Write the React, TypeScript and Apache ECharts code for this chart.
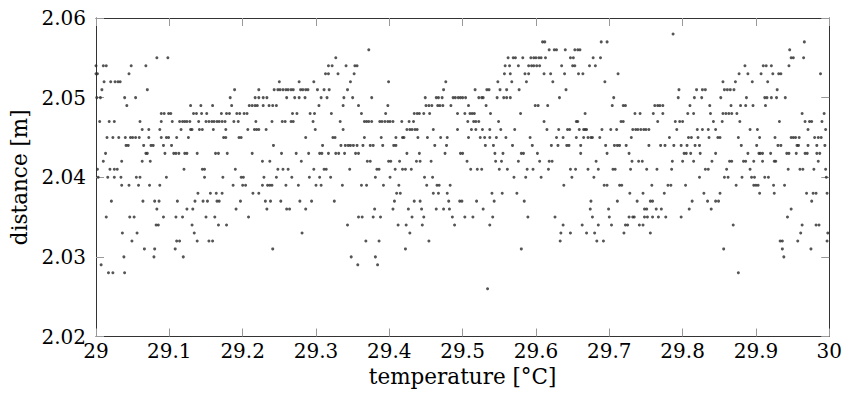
import React, { useEffect, useRef } from "react";
import * as echarts from "echarts";

// distance values (m), one row per measured level
const distances: number[] = [
  2.058, 2.057, 2.056, 2.055, 2.054, 2.053, 2.052, 2.051, 2.050, 2.049, 2.048, 2.047, 2.046,
  2.045, 2.044, 2.043, 2.042, 2.041, 2.040, 2.039, 2.038, 2.037, 2.036, 2.035, 2.034, 2.033,
  2.032, 2.031, 2.030, 2.029, 2.028, 2.026,
];

// temperatures (°C) at which each distance level was observed
const t2058 = [29.787];
const t2057 = [29.609, 29.612, 29.689, 29.697, 29.966];
const t2056 = [29.372, 29.618, 29.625, 29.628, 29.640, 29.653, 29.657, 29.660, 29.946];
const t2055 = [29.083, 29.098, 29.327, 29.562, 29.569, 29.572, 29.582, 29.593, 29.597, 29.600, 29.604, 29.607, 29.613, 29.647, 29.651, 29.678, 29.688, 29.948, 29.951, 29.965];
const t2054 = [29.000, 29.010, 29.014, 29.048, 29.068, 29.317, 29.322, 29.341, 29.353, 29.356, 29.558, 29.564, 29.576, 29.590, 29.594, 29.597, 29.601, 29.605, 29.635, 29.650, 29.653, 29.673, 29.681, 29.885, 29.910, 29.914, 29.921, 29.945];
const t2053 = [29.000, 29.002, 29.045, 29.313, 29.317, 29.330, 29.352, 29.557, 29.565, 29.585, 29.590, 29.611, 29.620, 29.639, 29.658, 29.664, 29.712, 29.877, 29.889, 29.907, 29.923, 29.931, 29.934, 29.988];
const t2052 = [29.011, 29.020, 29.026, 29.030, 29.033, 29.250, 29.277, 29.297, 29.347, 29.399, 29.477, 29.548, 29.567, 29.587, 29.623, 29.694, 29.855, 29.872, 29.895, 29.916];
const t2051 = [29.008, 29.070, 29.189, 29.222, 29.243, 29.248, 29.251, 29.255, 29.259, 29.262, 29.266, 29.269, 29.279, 29.282, 29.286, 29.289, 29.302, 29.311, 29.318, 29.343, 29.474, 29.517, 29.533, 29.536, 29.551, 29.560, 29.577, 29.641, 29.795, 29.819, 29.827, 29.831, 29.857, 29.861, 29.865, 29.870, 29.929];
const t2050 = [29.001, 29.006, 29.039, 29.054, 29.183, 29.217, 29.222, 29.228, 29.233, 29.260, 29.271, 29.277, 29.285, 29.307, 29.315, 29.338, 29.350, 29.376, 29.449, 29.464, 29.467, 29.472, 29.487, 29.490, 29.494, 29.497, 29.500, 29.504, 29.522, 29.526, 29.528, 29.547, 29.556, 29.560, 29.565, 29.632, 29.706, 29.794, 29.816, 29.826, 29.852, 29.887, 29.912, 29.915, 29.921, 29.928, 29.940];
const t2049 = [29.042, 29.129, 29.143, 29.159, 29.185, 29.209, 29.213, 29.217, 29.220, 29.228, 29.236, 29.241, 29.246, 29.304, 29.337, 29.358, 29.398, 29.450, 29.454, 29.458, 29.466, 29.469, 29.473, 29.484, 29.508, 29.532, 29.599, 29.603, 29.616, 29.704, 29.719, 29.722, 29.762, 29.766, 29.769, 29.773, 29.810, 29.837, 29.866, 29.879, 29.886, 29.896, 29.913];
const t2048 = [29.089, 29.093, 29.099, 29.102, 29.133, 29.137, 29.144, 29.151, 29.171, 29.178, 29.182, 29.192, 29.196, 29.202, 29.206, 29.268, 29.274, 29.292, 29.298, 29.321, 29.362, 29.395, 29.434, 29.438, 29.441, 29.447, 29.455, 29.493, 29.503, 29.510, 29.513, 29.516, 29.538, 29.579, 29.667, 29.735, 29.742, 29.760, 29.773, 29.807, 29.815, 29.838, 29.855, 29.859, 29.863, 29.867, 29.874, 29.963, 29.993];
const t2047 = [29.005, 29.018, 29.025, 29.060, 29.089, 29.104, 29.114, 29.118, 29.121, 29.124, 29.128, 29.140, 29.150, 29.154, 29.158, 29.161, 29.165, 29.168, 29.172, 29.176, 29.188, 29.194, 29.218, 29.240, 29.254, 29.258, 29.266, 29.269, 29.296, 29.333, 29.366, 29.369, 29.372, 29.376, 29.387, 29.390, 29.394, 29.398, 29.401, 29.405, 29.417, 29.427, 29.433, 29.507, 29.515, 29.518, 29.522, 29.549, 29.611, 29.655, 29.657, 29.716, 29.719, 29.766, 29.790, 29.796, 29.800, 29.842, 29.854, 29.878, 29.932, 29.967, 29.973, 29.976, 29.990];
const t2046 = [29.063, 29.072, 29.087, 29.116, 29.129, 29.131, 29.141, 29.145, 29.160, 29.177, 29.207, 29.216, 29.219, 29.222, 29.232, 29.299, 29.337, 29.424, 29.428, 29.431, 29.435, 29.438, 29.460, 29.493, 29.512, 29.518, 29.527, 29.537, 29.552, 29.571, 29.615, 29.631, 29.643, 29.646, 29.659, 29.665, 29.667, 29.669, 29.690, 29.702, 29.710, 29.732, 29.736, 29.739, 29.743, 29.747, 29.750, 29.754, 29.792, 29.820, 29.827, 29.835, 29.845, 29.892, 29.902, 29.971, 29.995];
const t2045 = [29.015, 29.023, 29.031, 29.040, 29.047, 29.050, 29.054, 29.059, 29.072, 29.089, 29.096, 29.099, 29.110, 29.126, 29.174, 29.177, 29.195, 29.198, 29.286, 29.323, 29.326, 29.366, 29.389, 29.409, 29.418, 29.420, 29.439, 29.452, 29.470, 29.479, 29.508, 29.524, 29.530, 29.537, 29.546, 29.559, 29.592, 29.628, 29.637, 29.655, 29.665, 29.671, 29.675, 29.677, 29.687, 29.730, 29.782, 29.808, 29.812, 29.821, 29.836, 29.848, 29.851, 29.876, 29.905, 29.926, 29.948, 29.951, 29.954, 29.959, 29.980, 29.985, 29.989];
const t2044 = [29.041, 29.044, 29.065, 29.075, 29.078, 29.092, 29.103, 29.242, 29.309, 29.334, 29.340, 29.344, 29.347, 29.351, 29.356, 29.364, 29.374, 29.378, 29.391, 29.406, 29.409, 29.462, 29.478, 29.531, 29.542, 29.568, 29.595, 29.621, 29.630, 29.642, 29.645, 29.661, 29.695, 29.707, 29.711, 29.714, 29.723, 29.754, 29.770, 29.776, 29.788, 29.798, 29.806, 29.817, 29.823, 29.880, 29.901, 29.930, 29.934, 29.956, 29.958, 29.971, 29.983, 29.994];
const t2043 = [29.013, 29.068, 29.070, 29.094, 29.106, 29.109, 29.113, 29.121, 29.124, 29.138, 29.163, 29.167, 29.179, 29.213, 29.253, 29.273, 29.290, 29.305, 29.308, 29.317, 29.327, 29.331, 29.339, 29.354, 29.358, 29.424, 29.441, 29.476, 29.497, 29.500, 29.544, 29.555, 29.580, 29.583, 29.602, 29.661, 29.697, 29.727, 29.802, 29.805, 29.811, 29.824, 29.845, 29.889, 29.904, 29.906, 29.909, 29.920, 29.942, 29.945, 29.955, 29.967, 29.970, 29.983, 29.987];
const t2042 = [29.010, 29.035, 29.063, 29.074, 29.227, 29.237, 29.280, 29.370, 29.374, 29.399, 29.402, 29.414, 29.437, 29.442, 29.457, 29.506, 29.545, 29.553, 29.576, 29.605, 29.618, 29.622, 29.682, 29.731, 29.740, 29.745, 29.786, 29.800, 29.815, 29.840, 29.864, 29.867, 29.883, 29.886, 29.897, 29.909, 29.925, 29.927, 29.985];
const t2041 = [29.002, 29.019, 29.025, 29.029, 29.120, 29.145, 29.148, 29.190, 29.248, 29.255, 29.262, 29.297, 29.311, 29.314, 29.346, 29.383, 29.386, 29.408, 29.418, 29.422, 29.430, 29.511, 29.520, 29.526, 29.550, 29.561, 29.588, 29.596, 29.617, 29.647, 29.654, 29.671, 29.685, 29.705, 29.708, 29.729, 29.751, 29.765, 29.785, 29.831, 29.835, 29.860, 29.892, 29.944, 29.960, 29.964, 29.979, 29.995];
const t2040 = [29.003, 29.016, 29.025, 29.034, 29.055, 29.060, 29.096, 29.148, 29.173, 29.198, 29.201, 29.229, 29.246, 29.267, 29.291, 29.305, 29.320, 29.381, 29.401, 29.448, 29.459, 29.570, 29.586, 29.607, 29.649, 29.679, 29.823, 29.857, 29.862, 29.881, 29.894, 29.898, 29.912, 29.917, 29.996];
const t2039 = [29.035, 29.045, 29.058, 29.073, 29.087, 29.187, 29.200, 29.204, 29.227, 29.234, 29.237, 29.240, 29.259, 29.276, 29.300, 29.307, 29.336, 29.362, 29.369, 29.392, 29.413, 29.451, 29.465, 29.468, 29.483, 29.638, 29.693, 29.697, 29.714, 29.717, 29.758, 29.780, 29.784, 29.804, 29.873, 29.897, 29.900, 29.903, 29.924, 29.939];
const t2038 = [29.139, 29.156, 29.164, 29.172, 29.214, 29.222, 29.410, 29.415, 29.460, 29.467, 29.479, 29.540, 29.554, 29.574, 29.728, 29.746, 29.775, 29.829, 29.851, 29.905, 29.925, 29.969, 29.978, 29.982, 29.997];
const t2037 = [29.021, 29.064, 29.080, 29.086, 29.111, 29.135, 29.146, 29.152, 29.165, 29.168, 29.197, 29.231, 29.238, 29.252, 29.278, 29.294, 29.325, 29.407, 29.434, 29.442, 29.481, 29.496, 29.499, 29.519, 29.543, 29.584, 29.675, 29.711, 29.738, 29.756, 29.759, 29.813, 29.834, 29.845, 29.849, 29.976];
const t2036 = [29.083, 29.124, 29.132, 29.191, 29.233, 29.260, 29.264, 29.286, 29.380, 29.405, 29.426, 29.444, 29.464, 29.474, 29.482, 29.528, 29.674, 29.699, 29.748, 29.751, 29.764, 29.771, 29.809, 29.839, 29.948];
const t2035 = [29.014, 29.046, 29.052, 29.092, 29.109, 29.118, 29.150, 29.162, 29.208, 29.358, 29.363, 29.378, 29.388, 29.431, 29.447, 29.486, 29.503, 29.514, 29.541, 29.589, 29.626, 29.677, 29.700, 29.727, 29.732, 29.734, 29.748, 29.752, 29.759, 29.767, 29.777, 29.798, 29.943];
const t2034 = [29.082, 29.085, 29.131, 29.167, 29.178, 29.343, 29.412, 29.423, 29.445, 29.489, 29.537, 29.637, 29.663, 29.685, 29.703, 29.722, 29.725, 29.741, 29.746, 29.869, 29.963, 29.982, 29.986];
const t2033 = [29.036, 29.056, 29.134, 29.281, 29.428, 29.634, 29.647, 29.669, 29.680, 29.720, 29.756, 29.961, 29.998];
const t2032 = [29.049, 29.110, 29.114, 29.138, 29.154, 29.159, 29.368, 29.386, 29.454, 29.633, 29.683, 29.692, 29.933, 29.936, 29.957, 29.997];
const t2031 = [29.066, 29.080, 29.108, 29.241, 29.422, 29.580, 29.856, 29.936, 29.975];
const t2030 = [29.038, 29.079, 29.119, 29.348, 29.381, 29.938];
const t2029 = [29.007, 29.357, 29.384];
const t2028 = [29.017, 29.023, 29.039, 29.876];
const t2026 = [29.534];

const temperatureRows: number[][] = [
  t2058, t2057, t2056, t2055, t2054, t2053, t2052, t2051, t2050, t2049, t2048, t2047, t2046,
  t2045, t2044, t2043, t2042, t2041, t2040, t2039, t2038, t2037, t2036, t2035, t2034, t2033,
  t2032, t2031, t2030, t2029, t2028, t2026,
];

const xTicks = { min: 29, max: 30, step: 0.1 };
const yTicks = { min: 2.02, max: 2.06, step: 0.01 };

const FONT = "DejaVu Serif";

export default function App() {
  const ref = useRef<HTMLDivElement>(null);

  useEffect(() => {
    if (!ref.current) return;
    const chart = echarts.init(ref.current, undefined, { renderer: "svg" });

    const points: [number, number][] = [];
    distances.forEach((d, i) => {
      temperatureRows[i].forEach((t) => points.push([t, d]));
    });

    const axisLine = { show: true, onZero: false, lineStyle: { color: "#333", width: 1 } };
    const tick = { show: true, inside: true, length: 8, lineStyle: { color: "#999", width: 1 } };

    chart.setOption({
      animation: false,
      backgroundColor: "#fff",
      grid: { left: 96, right: 15.5, top: 18, bottom: 67.5, containLabel: false },
      xAxis: [
        {
          type: "value",
          position: "bottom",
          min: xTicks.min,
          max: xTicks.max,
          interval: xTicks.step,
          axisLine,
          axisTick: tick,
          splitLine: { show: false },
          axisLabel: {
            color: "#000",
            fontFamily: FONT,
            fontSize: 20,
            margin: 4,
            formatter: (v: number) => String(+v.toFixed(1)),
          },
          name: "temperature [°C]",
          nameLocation: "middle",
          nameGap: 29,
          nameTextStyle: { color: "#000", fontFamily: FONT, fontSize: 21.5 },
        },
        {
          type: "value",
          position: "top",
          min: xTicks.min,
          max: xTicks.max,
          interval: xTicks.step,
          axisLine,
          axisTick: tick,
          splitLine: { show: false },
          axisLabel: { show: false },
        },
      ],
      yAxis: [
        {
          type: "value",
          position: "left",
          min: yTicks.min,
          max: yTicks.max,
          interval: yTicks.step,
          axisLine,
          axisTick: tick,
          splitLine: { show: false },
          axisLabel: {
            color: "#000",
            fontFamily: FONT,
            fontSize: 20,
            margin: 10,
            formatter: (v: number) => v.toFixed(2),
          },
          name: "distance [m]",
          nameLocation: "middle",
          nameGap: 61,
          nameTextStyle: { color: "#000", fontFamily: FONT, fontSize: 21.5 },
        },
        {
          type: "value",
          position: "right",
          min: yTicks.min,
          max: yTicks.max,
          interval: yTicks.step,
          axisLine,
          axisTick: tick,
          splitLine: { show: false },
          axisLabel: { show: false },
        },
      ],
      series: [
        {
          type: "scatter",
          xAxisIndex: 0,
          yAxisIndex: 0,
          symbol: "circle",
          symbolSize: 3,
          itemStyle: { color: "#2a2a2a" },
          silent: true,
          data: points,
        },
      ],
    });

    return () => chart.dispose();
  }, []);

  return (
    <div
      ref={ref}
      style={{ position: "absolute", left: 0, top: 0, width: 845, height: 404 }}
    />
  );
}
